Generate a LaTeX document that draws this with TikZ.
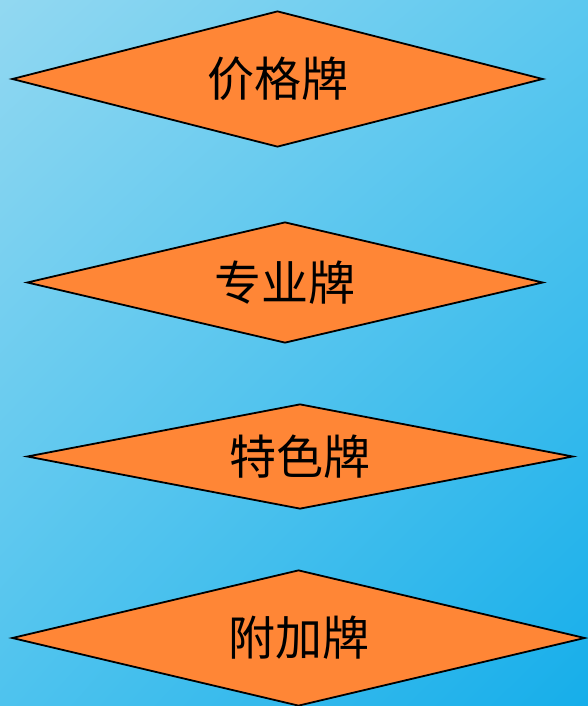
\documentclass[tikz,border=0pt]{standalone}
\usepackage{fontspec}
\newfontfamily\cjk{Noto Sans CJK SC}
\usetikzlibrary{shapes.geometric,shadings}
\definecolor{bgTL}{HTML}{92D8F1}
\definecolor{bgTR}{HTML}{5CC8EF}
\definecolor{bgBL}{HTML}{4EC3EE}
\definecolor{bgBR}{HTML}{16AEEA}
\definecolor{cardfill}{HTML}{FF8636}
\tikzset{
  card/.style={draw=black, line width=1.8pt, fill=cardfill, diamond, aspect=4,
    inner sep=0pt, font=\cjk\fontsize{47}{50}\selectfont, text=black, line join=miter}
}
\begin{document}
\begin{tikzpicture}[x=1pt,y=-1pt]
\useasboundingbox (0,0) rectangle (588,706);
\shade[upper left=bgTL, upper right=bgTR, lower left=bgBL, lower right=bgBR] (0,0) rectangle (588,706);
\node[card, minimum width=531pt, minimum height=136pt] (d1) at (277.5,79) {\raisebox{-2pt}{价格牌}};
\node[card, minimum width=516pt, minimum height=121pt] (d2) at (285,282.5) {\raisebox{-2pt}{专业牌}};
\node[card, minimum width=546pt, minimum height=105pt] (d3) at (300,456.5) {\raisebox{-2pt}{特色牌}};
\node[card, minimum width=573pt, minimum height=136pt] (d4) at (298.5,638) {\raisebox{-2pt}{附加牌}};
\end{tikzpicture}
\end{document}
